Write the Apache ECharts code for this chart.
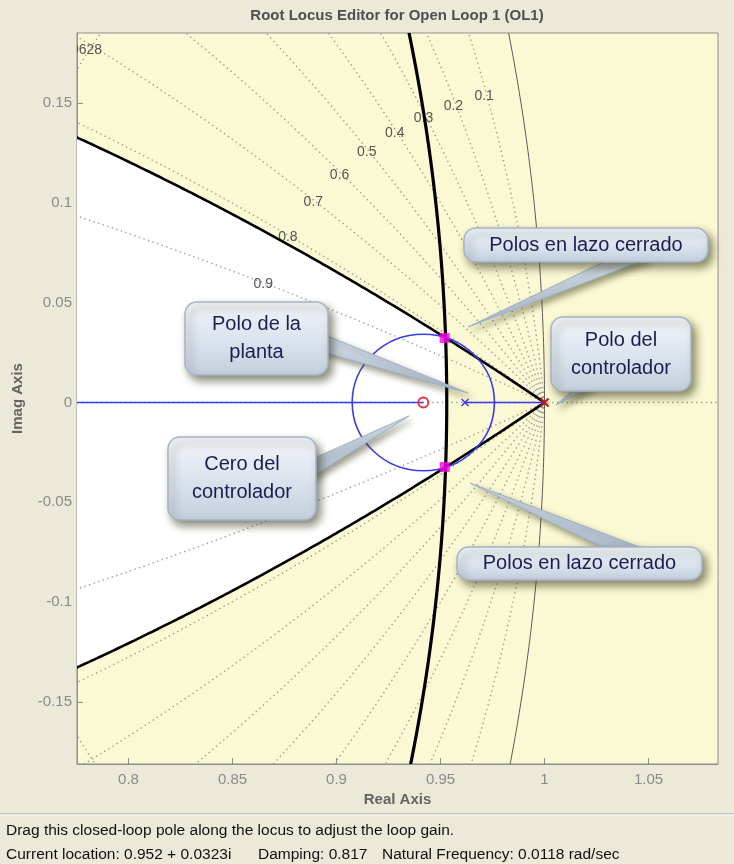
<!DOCTYPE html>
<html>
<head>
<meta charset="utf-8">
<title>Root Locus Editor</title>
<script src="https://cdn.jsdelivr.net/npm/echarts@6/dist/echarts.min.js"></script>
<style>
  html, body { margin: 0; padding: 0; background: #ECE9D8; }
  #chart { width: 734px; height: 864px; }
</style>
</head>
<body>
<div id="chart"></div>
<script>
// ---- axis extents (z-plane) ----
const realRange = [0.77524, 1.08341];
const imagRange = [-0.181, 0.185];

// ---- z-plane grid ----
const dampingGrid = [0.1, 0.2, 0.3, 0.4, 0.5, 0.6, 0.7, 0.8, 0.9];
const dampingGridLabels = ['0.1', '0.2', '0.3', '0.4', '0.5', '0.6', '0.7', '0.8', '0.9'];
const dampingLabelWnT = 0.157;          // normalised frequency where damping labels sit
const wnGridT = [0.31416];              // natural-frequency grid (wn*T)
const wnGridLabels = ['0.0628'];

// ---- design requirements ----
const minDamping = 0.817;
const maxPoleRadius = 0.953;

// ---- open-loop model ----
const plantPoles = [0.96178];
const controllerPoles = [1.0];
const controllerZeros = [0.94173];
const closedLoopPoles = [[0.952, 0.0323], [0.952, -0.0323]];

// ---- status bar ----
const statusLines = [
  'Drag this closed-loop pole along the locus to adjust the loop gain.',
  'Current location: 0.952 + 0.0323i',
  'Damping: 0.817',
  'Natural Frequency: 0.0118 rad/sec'
];

const FONT = '"Liberation Sans", Arial, sans-serif';

// point on a constant-damping spiral  z = exp(s T), s = wn(-zeta + j sqrt(1-zeta^2))
function zFromS(zeta, wnT, sign) {
  const m = Math.exp(-zeta * wnT);
  const a = wnT * Math.sqrt(1 - zeta * zeta);
  return [m * Math.cos(a), sign * m * Math.sin(a)];
}
function dampingCurve(zeta, sign, w0, w1) {
  const pts = [];
  const n = 300;
  for (let i = 0; i <= n; i++) pts.push(zFromS(zeta, w0 + (w1 - w0) * i / n, sign));
  return pts;
}
function wnCurve(wnT, sign) {
  const pts = [];
  const n = 200;
  for (let i = 0; i <= n; i++) pts.push(zFromS(i / n, wnT, sign));
  return pts;
}
function radiusArc(r, a0, a1) {
  const pts = [];
  const n = 200;
  for (let i = 0; i <= n; i++) {
    const a = a0 + (a1 - a0) * i / n;
    pts.push([r * Math.cos(a), r * Math.sin(a)]);
  }
  return pts;
}

const W_FAR = 0.6;                                       // beyond the left edge of the view
const wCorner = -Math.log(maxPoleRadius) / minDamping;   // where the two requirements meet
const aCorner = wCorner * Math.sqrt(1 - minDamping * minDamping);

const dotted = { fill: null, stroke: '#9c9c96', lineWidth: 1.4, lineDash: [1.4, 3.4] };
const anchor = [[1, 0]];

const series = [
  // feasible region (white) inside the yellow excluded area
  {
    type: 'custom', coordinateSystem: 'cartesian2d', clip: true, silent: true, z: 1,
    data: anchor,
    renderItem: (p, api) => {
      const up = dampingCurve(minDamping, 1, wCorner, W_FAR);
      const lo = dampingCurve(minDamping, -1, W_FAR, wCorner);
      const arc = radiusArc(maxPoleRadius, -aCorner, aCorner);
      const pts = up.concat(lo, arc).map(q => api.coord(q));
      return { type: 'polygon', shape: { points: pts }, style: { fill: '#ffffff', stroke: null } };
    }
  },
  // constant damping grid
  {
    type: 'custom', coordinateSystem: 'cartesian2d', clip: true, silent: true, z: 2,
    data: dampingGrid.map(z => [1, 0, z]),
    renderItem: (p, api) => {
      const zeta = api.value(2);
      return {
        type: 'group',
        children: [1, -1].map(s => ({
          type: 'polyline',
          shape: { points: dampingCurve(zeta, s, 0, W_FAR).map(q => api.coord(q)) },
          style: dotted
        }))
      };
    }
  },
  // constant natural frequency grid
  {
    type: 'custom', coordinateSystem: 'cartesian2d', clip: true, silent: true, z: 2,
    data: wnGridT.map(w => [1, 0, w]),
    renderItem: (p, api) => {
      const w = api.value(2);
      return {
        type: 'group',
        children: [1, -1].map(s => ({
          type: 'polyline',
          shape: { points: wnCurve(w, s).map(q => api.coord(q)) },
          style: dotted
        }))
      };
    }
  },
  // real axis grid line
  {
    type: 'line', silent: true, z: 2, symbol: 'none',
    data: [[realRange[0], 0], [realRange[1], 0]],
    lineStyle: { color: '#9c9c96', width: 1.4, type: [1.4, 3.4] }
  },
  // grid labels
  {
    type: 'custom', coordinateSystem: 'cartesian2d', clip: true, silent: true, z: 3,
    data: anchor,
    renderItem: (p, api) => {
      const children = dampingGrid.map((z, i) => {
        const c = api.coord(zFromS(z, dampingLabelWnT, 1));
        return {
          type: 'text', x: c[0] - 3, y: c[1],
          style: { text: dampingGridLabels[i], fill: '#555555', font: '14px ' + FONT, align: 'center', verticalAlign: 'middle' }
        };
      });
      wnGridT.forEach((w, i) => {
        const c = api.coord(zFromS(0.7, w, 1));
        children.push({
          type: 'text', x: c[0] + 10, y: c[1] + 4,
          style: { text: wnGridLabels[i], fill: '#555555', font: '14px ' + FONT, align: 'right', verticalAlign: 'middle' }
        });
      });
      return { type: 'group', children };
    }
  },
  // unit circle
  {
    type: 'custom', coordinateSystem: 'cartesian2d', clip: true, silent: true, z: 4,
    data: anchor,
    renderItem: (p, api) => ({
      type: 'polyline',
      shape: { points: radiusArc(1, -0.3, 0.3).map(q => api.coord(q)) },
      style: { fill: null, stroke: '#5a5a5a', lineWidth: 1 }
    })
  },
  // settling-time requirement (constant radius)
  {
    type: 'custom', coordinateSystem: 'cartesian2d', clip: true, silent: true, z: 5,
    data: anchor,
    renderItem: (p, api) => ({
      type: 'polyline',
      shape: { points: radiusArc(maxPoleRadius, -0.3, 0.3).map(q => api.coord(q)) },
      style: { fill: null, stroke: '#000000', lineWidth: 3.2 }
    })
  },
  // damping requirement
  {
    type: 'custom', coordinateSystem: 'cartesian2d', clip: true, silent: true, z: 5,
    data: anchor,
    renderItem: (p, api) => ({
      type: 'group',
      children: [1, -1].map(s => ({
        type: 'polyline',
        shape: { points: dampingCurve(minDamping, s, 0, W_FAR).map(q => api.coord(q)) },
        style: { fill: null, stroke: '#000000', lineWidth: 2.6 }
      }))
    })
  },
  // root locus: real-axis branches
  {
    type: 'line', silent: true, z: 6, symbol: 'none',
    data: [[realRange[0], 0], [controllerZeros[0], 0]],
    lineStyle: { color: '#3a3af2', width: 1.6 }
  },
  {
    type: 'line', silent: true, z: 6, symbol: 'none',
    data: [[plantPoles[0], 0], [controllerPoles[0], 0]],
    lineStyle: { color: '#3a3af2', width: 1.6 }
  },
  // root locus: complex branch (circle centred on the zero)
  {
    type: 'custom', coordinateSystem: 'cartesian2d', clip: true, silent: true, z: 6,
    data: anchor,
    renderItem: (p, api) => {
      const z0 = controllerZeros[0];
      const R = Math.sqrt((controllerPoles[0] - z0) * (plantPoles[0] - z0));
      const c = api.coord([z0, 0]);
      const sz = api.size([R, R]);
      return {
        type: 'ellipse',
        shape: { cx: c[0], cy: c[1], rx: sz[0], ry: sz[1] },
        style: { fill: null, stroke: '#3a3af2', lineWidth: 1.6 }
      };
    }
  },
  // open-loop poles and zeros
  {
    type: 'custom', coordinateSystem: 'cartesian2d', clip: true, silent: true, z: 7,
    data: plantPoles.map(x => [x, 0, 0]).concat(controllerPoles.map(x => [x, 0, 1]), controllerZeros.map(x => [x, 0, 2])),
    renderItem: (p, api) => {
      const c = api.coord([api.value(0), api.value(1)]);
      const kind = api.value(2);
      if (kind === 2) {
        return { type: 'circle', shape: { cx: c[0], cy: c[1], r: 5 }, style: { fill: null, stroke: '#e8303a', lineWidth: 1.8 } };
      }
      const h = kind === 0 ? 3.5 : 4;
      const col = kind === 0 ? '#3a3af2' : '#c01818';
      const lw = kind === 0 ? 1.4 : 2.2;
      return {
        type: 'group',
        children: [
          { type: 'line', shape: { x1: c[0] - h, y1: c[1] - h, x2: c[0] + h, y2: c[1] + h }, style: { stroke: col, lineWidth: lw } },
          { type: 'line', shape: { x1: c[0] - h, y1: c[1] + h, x2: c[0] + h, y2: c[1] - h }, style: { stroke: col, lineWidth: lw } }
        ]
      };
    }
  },
  // closed-loop poles
  {
    type: 'scatter', silent: true, z: 8,
    data: closedLoopPoles,
    symbol: 'rect', symbolSize: 10,
    itemStyle: { color: '#ff00e6' }
  }
];

// annotation balloons
const callouts = [
  { lines: ['Polos en lazo cerrado'], box: [464, 228, 244, 34], tail: [[612, 258], [650, 258], [468, 327]] },
  { lines: ['Polo del', 'controlador'], box: [551, 317, 140, 74], tail: [[578, 386], [594, 386], [556, 405]] },
  { lines: ['Polo de la', 'planta'], box: [185, 302, 143, 73], tail: [[322, 334], [322, 352], [468, 393]] },
  { lines: ['Cero del', 'controlador'], box: [168, 437, 148, 83], tail: [[310, 460], [310, 478], [409, 416]] },
  { lines: ['Polos en lazo cerrado'], box: [457, 547, 245, 33], tail: [[610, 551], [650, 551], [470, 483]] }
];

const boxFill = {
  type: 'linear', x: 0, y: 0, x2: 0, y2: 1,
  colorStops: [{ offset: 0, color: '#F3F6FB' }, { offset: 0.5, color: '#DCE4EE' }, { offset: 1, color: '#C4CFDD' }]
};
const tailFill = {
  type: 'linear', x: 0, y: 0, x2: 0, y2: 1,
  colorStops: [{ offset: 0, color: '#D5DEEA' }, { offset: 1, color: '#AEBCCF' }]
};

const graphics = [];
callouts.forEach(cb => {
  const [x, y, w, h] = cb.box;
  graphics.push({
    type: 'polygon', z: 100,
    shape: { points: cb.tail },
    style: { fill: tailFill, stroke: '#9fb0c4', lineWidth: 1, shadowBlur: 6, shadowOffsetX: 3, shadowOffsetY: 4, shadowColor: 'rgba(60,60,30,0.5)' }
  });
  graphics.push({
    type: 'rect', z: 101,
    shape: { x, y, width: w, height: h, r: 12 },
    style: { fill: boxFill, stroke: '#A5B3C6', lineWidth: 1.5, shadowBlur: 9, shadowOffsetX: 4, shadowOffsetY: 5, shadowColor: 'rgba(60,60,30,0.6)' }
  });
  const lh = 28;
  const y0 = y + h / 2 - (cb.lines.length - 1) * lh / 2;
  cb.lines.forEach((t, i) => {
    graphics.push({
      type: 'text', z: 102, x: x + w / 2, y: y0 + i * lh,
      style: { text: t, fill: '#1d1d52', font: '20px ' + FONT, align: 'center', verticalAlign: 'middle' }
    });
  });
});

// title
graphics.push({
  type: 'text', x: 397, y: 16,
  style: { text: 'Root Locus Editor for Open Loop 1 (OL1)', fill: '#505050', font: 'bold 15px ' + FONT, align: 'center', verticalAlign: 'middle' }
});
// status bar
graphics.push({ type: 'line', shape: { x1: 0, y1: 814, x2: 734, y2: 814 }, style: { stroke: '#a9a69a', lineWidth: 1 } });
graphics.push({ type: 'line', shape: { x1: 0, y1: 815, x2: 734, y2: 815 }, style: { stroke: '#ffffff', lineWidth: 1 } });
const statusStyle = { fill: '#111111', font: '15.5px ' + FONT, align: 'left', verticalAlign: 'middle' };
graphics.push({ type: 'text', x: 6, y: 831, style: Object.assign({ text: statusLines[0] }, statusStyle) });
graphics.push({ type: 'text', x: 6, y: 855, style: Object.assign({ text: statusLines[1] }, statusStyle) });
graphics.push({ type: 'text', x: 258, y: 855, style: Object.assign({ text: statusLines[2] }, statusStyle) });
graphics.push({ type: 'text', x: 382, y: 855, style: Object.assign({ text: statusLines[3] }, statusStyle) });

const tickFmt = v => String(parseFloat(v.toFixed(3)));
const axisCommon = {
  type: 'value',
  axisLine: { show: true, onZero: false, lineStyle: { color: '#8f8f8f' } },
  axisTick: { show: true, inside: true, length: 6, lineStyle: { color: '#8f8f8f' } },
  splitLine: { show: false },
  nameLocation: 'middle',
  nameTextStyle: { fontFamily: FONT, fontSize: 15, fontWeight: 'bold', color: '#646464' }
};

const option = {
  backgroundColor: '#ECE9D8',
  animation: false,
  grid: { left: 77, right: 16, top: 33, bottom: 100, show: true, backgroundColor: '#FAF9D3', borderColor: '#8f8f8f', borderWidth: 1 },
  xAxis: Object.assign({}, axisCommon, {
    min: realRange[0], max: realRange[1], splitNumber: 6,
    name: 'Real Axis', nameGap: 27,
    axisLabel: { showMinLabel: false, showMaxLabel: false, margin: 8, color: '#8a8a8a', fontSize: 15, fontFamily: FONT, formatter: tickFmt }
  }),
  yAxis: Object.assign({}, axisCommon, {
    min: imagRange[0], max: imagRange[1], splitNumber: 7,
    name: 'Imag Axis', nameGap: 52, nameRotate: 90,
    axisLabel: { showMinLabel: false, showMaxLabel: false, margin: 5, color: '#8a8a8a', fontSize: 15, fontFamily: FONT, formatter: tickFmt }
  }),
  series,
  graphic: { elements: graphics }
};

const chart = echarts.init(document.getElementById('chart'), null, { renderer: 'canvas' });
chart.setOption(option);
</script>
</body>
</html>
